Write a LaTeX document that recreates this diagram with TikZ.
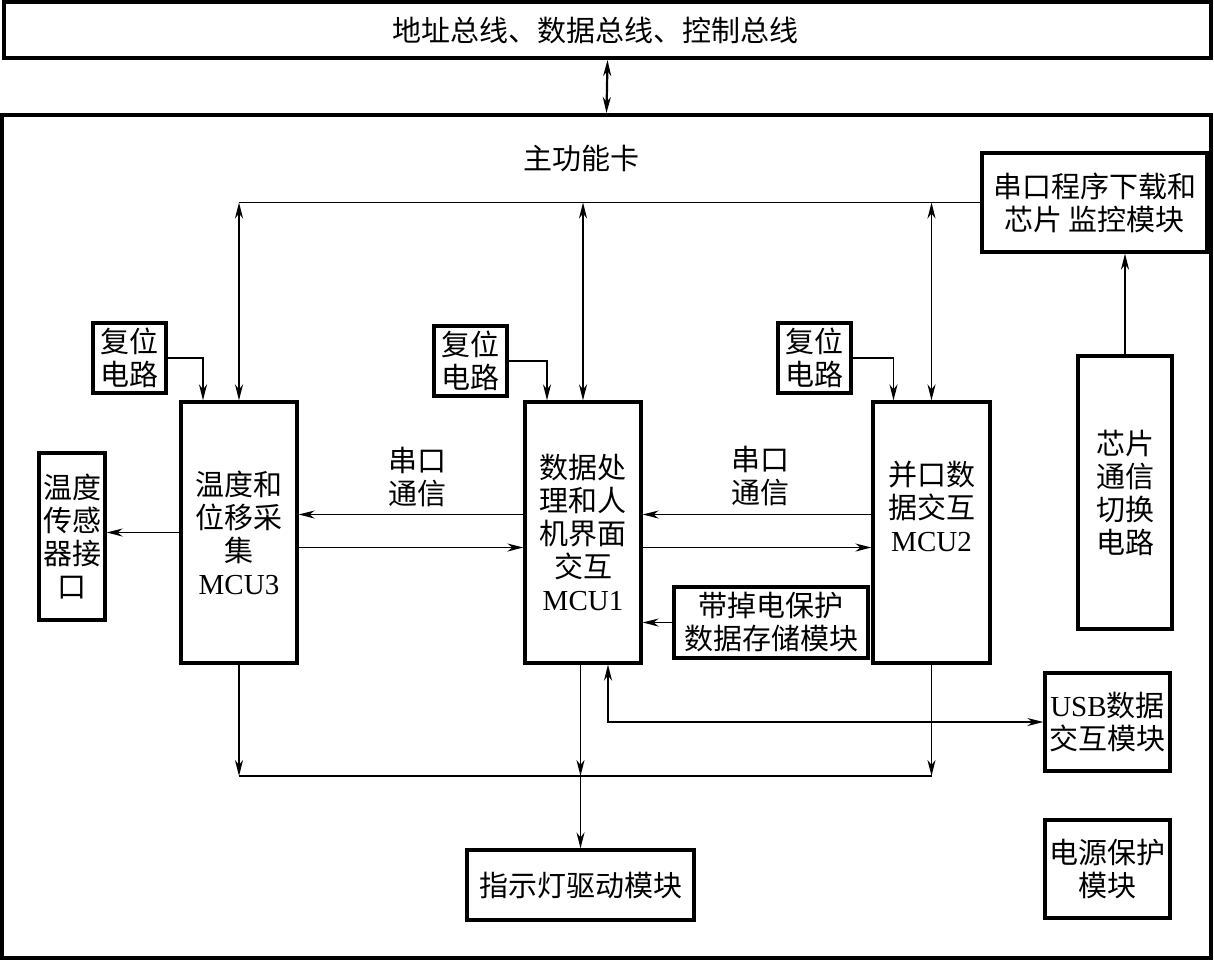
\documentclass[tikz,border=0pt]{standalone}
\usepackage{fontspec}
\setmainfont{Liberation Serif}
\newfontfamily\cjk{Noto Sans CJK SC}
\usetikzlibrary{arrows.meta}

\begin{document}
\begin{tikzpicture}[x=1pt,y=-1pt,
		blk/.style={draw, line width=3.2pt, inner sep=0pt, align=center, font=\cjk\fontsize{29}{33}\selectfont},
		lbl/.style={align=center, font=\cjk\fontsize{29}{33}\selectfont},
		wire/.style={line width=1.8pt},
		>={Stealth[length=16pt,width=8pt,inset=5pt]}]
		\useasboundingbox (0,0) rectangle (1214,961);

		\node[blk, line width=4pt, minimum width=1207pt, minimum height=56pt] (bus) at (607.5,30) {地址总线、数据总线、控制总线\hspace*{24pt}};
		\node[draw, line width=4pt, minimum width=1209pt, minimum height=843pt] (main) at (606.5,536.5) {};
		\node[lbl] (title) at (581,158) {主功能卡};

		\node[blk, minimum width=225pt, minimum height=99pt] (smod) at (1094.5,202.5) {串口程序下载和\\芯片 监控模块};
		\node[blk, minimum width=73pt, minimum height=70pt] (rst3) at (129.5,358) {复位\\电路};
		\node[blk, minimum width=73pt, minimum height=70pt] (rst1) at (470.5,361) {复位\\电路};
		\node[blk, minimum width=73pt, minimum height=70pt] (rst2) at (814.5,358) {复位\\电路};

		\node[blk, minimum width=116pt, minimum height=261pt] (mcu3) at (239,532.5) {温度和\\位移采\\集\\{\rmfamily MCU3}};
		\node[blk, minimum width=116pt, minimum height=261pt] (mcu1) at (583,532.5) {数据处\\理和人\\机界面\\交互\\{\rmfamily MCU1}};
		\node[blk, minimum width=117pt, minimum height=261pt] (mcu2) at (931.5,532.5) {并口数\\据交互\\{\rmfamily MCU2}\\[20pt]};

		\node[blk, minimum width=66pt, minimum height=167pt] (sens) at (72,536.5) {温度\\传感\\器接\\口};
		\node[blk, minimum width=194pt, minimum height=71pt] (store) at (771,622.5) {带掉电保护\\数据存储模块};
		\node[blk, minimum width=94pt, minimum height=273pt] (chip) at (1125,492.5) {芯片\\通信\\切换\\电路};
		\node[blk, minimum width=125pt, minimum height=98pt] (usb) at (1107.5,722) {{\rmfamily USB}数据\\交互模块};
		\node[blk, minimum width=125pt, minimum height=98pt] (pwr) at (1107.5,869) {电源保护\\模块};
		\node[blk, minimum width=227pt, minimum height=70pt] (led) at (580.5,885) {指示灯驱动模块};

		\node[lbl] (sc31) at (417,477) {串口\\通信};
		\node[lbl] (sc12) at (760,476) {串口\\通信};

		\coordinate (busl) at (239,776);
		\coordinate (busr) at (931.5,776);

		\draw[<->, line width=2.2pt] (bus.south) -- (main.north);

		\draw[wire] (smod.west) -- (smod.west -| mcu3.north);
		\draw[wire,<->] (mcu3.north |- smod.west) -- (mcu3.north);
		\draw[wire,<->] (mcu1.north |- smod.west) -- (mcu1.north);
		\draw[wire,<->] (mcu2.north |- smod.west) -- (mcu2.north);
		\draw[wire,->] (chip.north) -- (chip.north |- smod.south);

		\draw[wire,->] (rst3.east) -| ([xshift=-36pt]mcu3.north);
		\draw[wire,->] (rst1.east) -| ([xshift=-36pt]mcu1.north);
		\draw[wire,->] (rst2.east) -| ([xshift=-38pt]mcu2.north);

		\draw[wire,->] (mcu3.west) -- (mcu3.west -| sens.east);
		\draw[wire,->] ([yshift=18pt]mcu1.west) -- ([yshift=18pt]mcu1.west -| mcu3.east);
		\draw[wire,->] ([yshift=-15pt]mcu3.east) -- ([yshift=-15pt]mcu3.east -| mcu1.west);
		\draw[wire,->] ([yshift=18pt]mcu2.west) -- ([yshift=18pt]mcu2.west -| mcu1.east);
		\draw[wire,->] ([yshift=-15pt]mcu1.east) -- ([yshift=-15pt]mcu1.east -| mcu2.west);
		\draw[wire,->] (store.west) -- (store.west -| mcu1.east);

		\draw[wire,->] (mcu3.south) -- (busl);
		\draw[wire,->] (mcu2.south) -- (busr);
		\draw[wire] (busl) -- (busr);
		\draw[wire,->] (led.north |- mcu1.south) -- (led.north |- busl);
		\draw[wire,->] (led.north |- busl) -- (led.north);
		\draw[wire,<->] ([xshift=25pt]mcu1.south) |- (usb.west);
	\end{tikzpicture}
\end{document}
